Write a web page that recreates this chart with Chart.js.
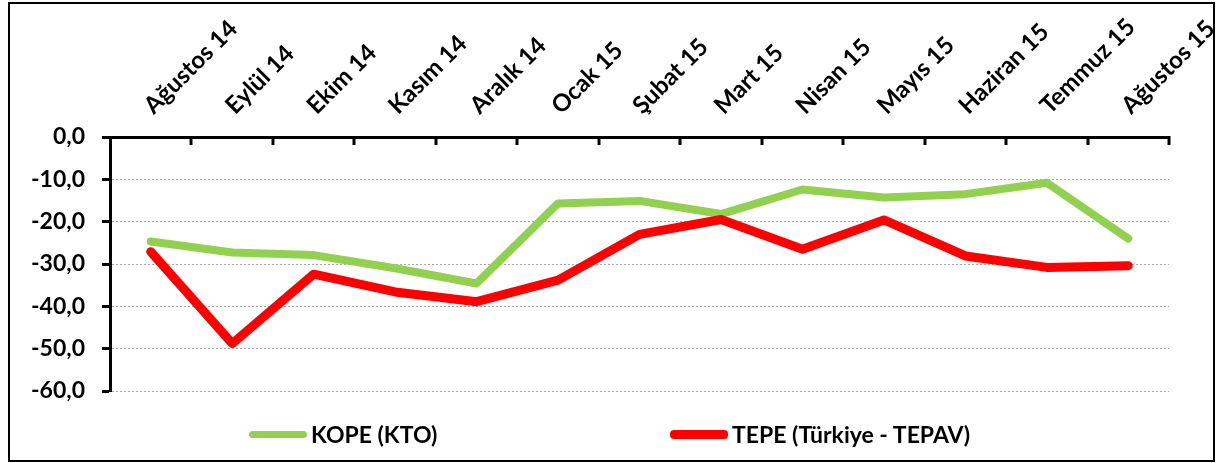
<!DOCTYPE html>
<html>
<head>
<meta charset="utf-8">
<script src="https://cdn.jsdelivr.net/npm/chart.js@4"></script>
<style>
    html, body { margin: 0; padding: 0; background: #fff; }
    #wrap { position: relative; width: 1218px; height: 463px; }
    #frame {
        position: absolute; left: 8px; top: 2px; width: 1203px; height: 456px;
        border: 2px solid #000; pointer-events: none;
    }
    .legend {
        position: absolute; top: 420px; font-family: Lato, sans-serif; font-weight: bold;
        font-size: 23px; color: #000; display: flex; align-items: center; line-height: 28px;
    }
    .legend span.swatch { display: inline-block; border-radius: 4px; margin-right: 4px; }
</style>
</head>
<body>
<div id="wrap">
    <canvas id="chart" width="1218" height="463"></canvas>
    <div id="frame"></div>
    <div class="legend" style="left:249px"><span class="swatch" style="width:58px;height:7px;background:#92D050"></span>KOPE (KTO)</div>
    <div class="legend" style="left:670px"><span class="swatch" style="width:58px;height:9px;background:#FF0000"></span>TEPE (Türkiye - TEPAV)</div>
</div>
<script>
const months = ['Ağustos 14', 'Eylül 14', 'Ekim 14', 'Kasım 14', 'Aralık 14', 'Ocak 15', 'Şubat 15',
    'Mart 15', 'Nisan 15', 'Mayıs 15', 'Haziran 15', 'Temmuz 15', 'Ağustos 15'];
const kope = [-24.7, -27.3, -27.9, -31.0, -34.6, -15.7, -15.1, -18.2, -12.4, -14.3, -13.5, -10.8, -24.0];
const tepe = [-27.1, -48.8, -32.4, -36.6, -38.9, -33.8, -23.0, -19.5, -26.5, -19.6, -28.1, -30.8, -30.4];

const FONT = { family: 'Lato, sans-serif', weight: 'bold', size: 23 };

// inward tick marks on the top category axis, like the Excel original
const innerTicks = {
    id: 'innerTicks',
    afterDraw(chart) {
        const x = chart.scales.x;
        const ctx = chart.ctx;
        const n = chart.data.labels.length;
        ctx.save();
        ctx.strokeStyle = '#000';
        ctx.lineWidth = 3;
        for (let i = 1; i <= n; i++) {
            const px = Math.round(x.left + i * (x.right - x.left) / n);
            ctx.beginPath();
            ctx.moveTo(px, x.bottom - 1);
            ctx.lineTo(px, x.bottom + 8);
            ctx.stroke();
        }
        ctx.restore();
    }
};

new Chart(document.getElementById('chart'), {
    type: 'line',
    data: {
        labels: months,
        datasets: [{
            label: 'KOPE (KTO)',
            data: kope,
            borderColor: '#92D050',
            backgroundColor: '#92D050',
            borderWidth: 8,
            borderCapStyle: 'round',
            borderJoinStyle: 'round',
            pointRadius: 0,
            tension: 0,
            order: 1
        }, {
            label: 'TEPE (Türkiye - TEPAV)',
            data: tepe,
            borderColor: '#FF0000',
            backgroundColor: '#FF0000',
            borderWidth: 9,
            borderCapStyle: 'round',
            borderJoinStyle: 'round',
            pointRadius: 0,
            tension: 0,
            order: 0
        }]
    },
    options: {
        responsive: false,
        animation: false,
        layout: { padding: { left: 10, right: 49, top: 4, bottom: 72 } },
        plugins: {
            legend: { display: false },
            tooltip: { enabled: false }
        },
        scales: {
            x: {
                position: 'top',
                offset: true,
                grid: { display: false, drawTicks: false, offset: true },
                border: { display: true, color: '#000', width: 3 },
                ticks: {
                    color: '#000',
                    font: { ...FONT, size: 24 },
                    autoSkip: false,
                    minRotation: 45,
                    maxRotation: 45,
                    padding: 17,
                    labelOffset: 18
                },
                afterFit: (s) => { s.height = 133; s.paddingLeft = 0; s.paddingRight = 0; }
            },
            y: {
                min: -60,
                max: 0,
                ticks: {
                    stepSize: 10,
                    color: '#000',
                    font: FONT,
                    padding: 17,
                    callback: (v) => v.toFixed(1).replace('.', ',')
                },
                grid: {
                    color: '#a6a6a6',
                    lineWidth: 1,
                    tickLength: 8,
                    tickColor: '#000',
                    tickWidth: 3,
                    tickBorderDash: []
                },
                border: { display: true, color: '#000', width: 3, dash: [2, 2] },
                afterFit: (s) => { s.width = 100; }
            }
        }
    },
    plugins: [innerTicks]
});
</script>
</body>
</html>
